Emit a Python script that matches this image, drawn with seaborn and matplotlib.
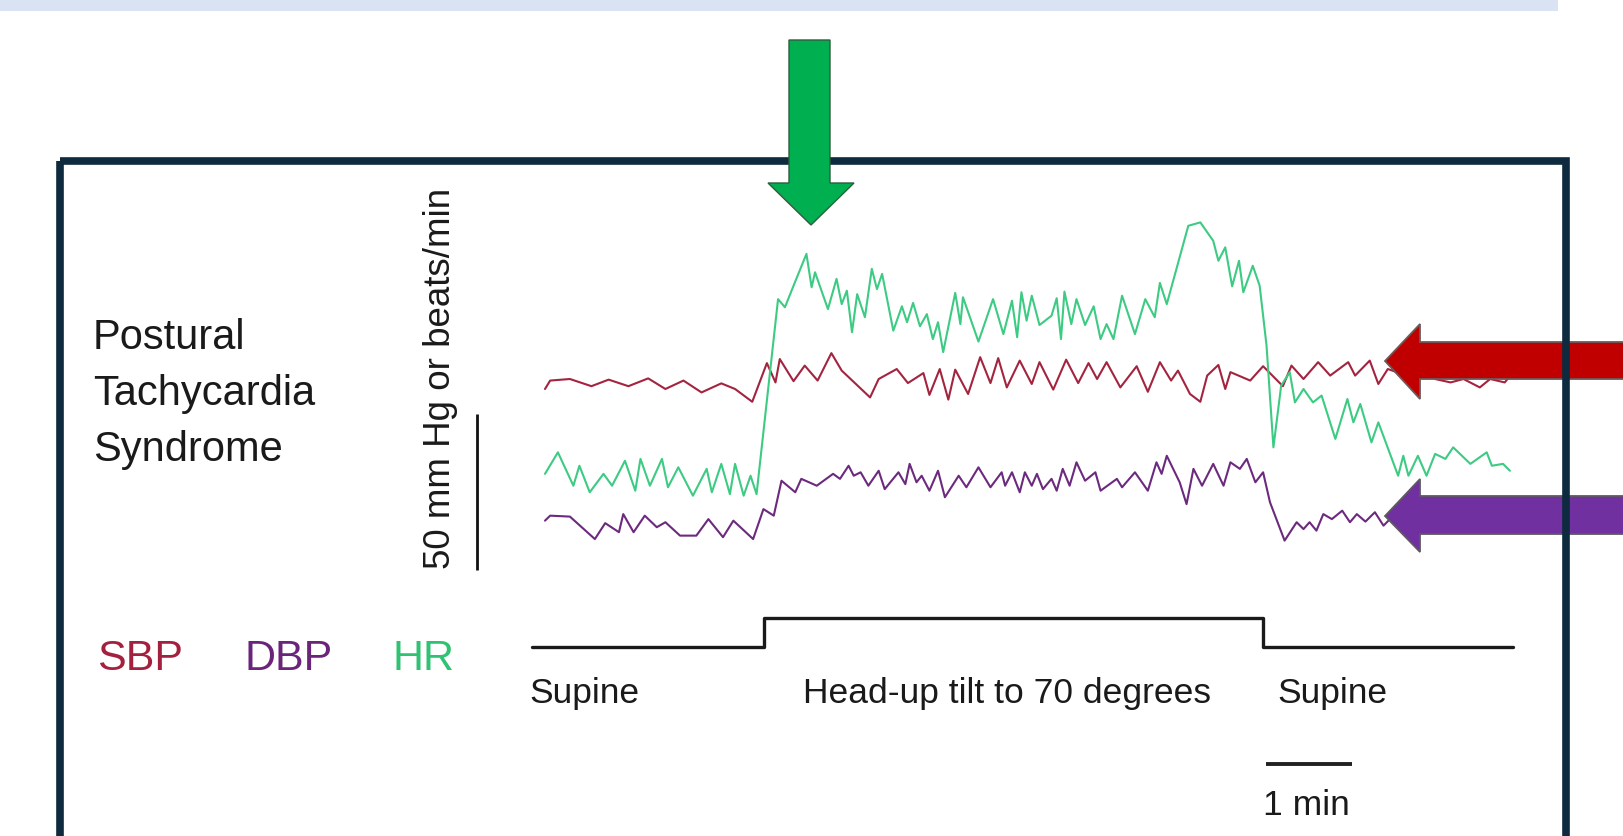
import numpy as np
import pandas as pd
import matplotlib
matplotlib.use("Agg")
import matplotlib.pyplot as plt
import seaborn as sns
from matplotlib.patches import Polygon, Rectangle

# ---------------- data (time in min, values in mmHg / beats per min) ----------------
sbp_t = [0.00, 0.06, 0.29, 0.54, 0.74, 0.97, 1.20, 1.40, 1.61, 1.82, 2.05, 2.21, 2.41, 2.58,
         2.68, 2.73, 2.89, 3.02, 3.17, 3.33, 3.45, 3.78, 3.88, 4.09, 4.22, 4.40, 4.47, 4.59,
         4.69, 4.77, 4.92, 5.06, 5.18, 5.27, 5.37, 5.52, 5.66, 5.75, 5.91, 6.06, 6.20, 6.32,
         6.42, 6.53, 6.69, 6.88, 7.01, 7.15, 7.28, 7.36, 7.50, 7.62, 7.70, 7.83, 7.91, 7.97,
         8.20, 8.35, 8.58, 8.68, 8.82, 8.99, 9.13, 9.34, 9.42, 9.59, 9.69, 9.80, 10.00, 10.17,
         10.35, 10.53, 10.68, 10.87, 10.99, 11.16, 11.22]
sbp_v = [118.4, 121.1, 121.6, 119.3, 121.4, 119.3, 121.8, 118.4, 121.1, 117.3, 120.2, 118.4,
         114.3, 126.7, 120.5, 128.0, 120.9, 125.9, 121.1, 129.9, 124.3, 115.7, 121.6, 124.8,
         120.3, 123.5, 116.5, 124.8, 115.0, 124.6, 116.8, 128.6, 120.3, 128.3, 118.9, 127.5,
         120.0, 127.0, 118.2, 127.8, 120.3, 126.7, 121.6, 127.0, 118.9, 125.7, 117.5, 127.0,
         121.1, 124.3, 116.8, 114.3, 122.7, 126.1, 118.4, 123.8, 121.1, 125.7, 119.3, 125.9,
         121.6, 127.0, 122.7, 127.0, 122.7, 127.5, 120.0, 124.8, 122.9, 125.4, 121.6, 120.5,
         121.6, 118.9, 121.6, 120.5, 122.6]

dbp_t = [0.00, 0.06, 0.29, 0.58, 0.70, 0.86, 0.91, 1.03, 1.16, 1.30, 1.40, 1.57, 1.76, 1.90,
         2.07, 2.19, 2.42, 2.54, 2.66, 2.75, 2.91, 2.98, 3.16, 3.35, 3.43, 3.53, 3.59, 3.67,
         3.76, 3.88, 3.95, 4.11, 4.19, 4.24, 4.32, 4.38, 4.47, 4.57, 4.65, 4.81, 4.90, 5.04,
         5.18, 5.31, 5.35, 5.43, 5.52, 5.58, 5.66, 5.72, 5.79, 5.89, 5.95, 6.02, 6.10, 6.18,
         6.28, 6.40, 6.46, 6.65, 6.71, 6.86, 7.01, 7.11, 7.17, 7.23, 7.38, 7.46, 7.54, 7.64,
         7.77, 7.89, 7.97, 8.08, 8.16, 8.26, 8.35, 8.43, 8.60, 8.74, 8.82, 8.89, 8.97, 9.05,
         9.15, 9.27, 9.36, 9.44, 9.54, 9.65, 9.75, 9.85]
dbp_v = [76.2, 77.8, 77.5, 70.3, 75.4, 72.5, 78.3, 72.5, 77.8, 74.1, 75.7, 71.4, 71.4, 76.7,
         70.9, 76.2, 70.3, 79.9, 77.8, 89.0, 85.3, 89.6, 87.4, 91.2, 89.6, 93.8, 90.6, 91.7,
         87.4, 92.2, 86.3, 91.7, 87.9, 94.4, 88.5, 90.6, 85.8, 92.2, 83.7, 90.6, 86.9, 93.3,
         86.9, 91.7, 87.4, 91.7, 85.3, 91.7, 87.4, 91.2, 86.3, 89.6, 85.8, 92.8, 87.4, 94.9,
         89.0, 91.7, 85.8, 89.6, 86.9, 91.7, 85.8, 94.9, 91.2, 97.0, 88.5, 81.5, 92.8, 87.4,
         94.4, 87.4, 94.9, 92.8, 96.0, 88.5, 91.7, 82.1, 69.8, 75.7, 73.5, 75.7, 73.0, 78.3,
         76.7, 79.4, 75.7, 78.3, 75.9, 78.9, 74.6, 77.4]

hr_t = [0.00, 0.15, 0.33, 0.40, 0.52, 0.68, 0.78, 0.93, 1.05, 1.11, 1.22, 1.36, 1.43, 1.55,
        1.72, 1.88, 1.94, 2.05, 2.15, 2.21, 2.31, 2.39, 2.46, 2.71, 2.79, 2.89, 3.04, 3.10,
        3.14, 3.29, 3.39, 3.45, 3.51, 3.57, 3.63, 3.72, 3.80, 3.86, 3.92, 4.05, 4.15, 4.21,
        4.28, 4.36, 4.44, 4.51, 4.57, 4.63, 4.77, 4.83, 4.86, 5.04, 5.21, 5.33, 5.43, 5.49,
        5.54, 5.60, 5.66, 5.75, 5.89, 5.95, 6.00, 6.04, 6.12, 6.18, 6.28, 6.38, 6.46, 6.53,
        6.61, 6.71, 6.86, 6.98, 7.09, 7.15, 7.23, 7.48, 7.62, 7.77, 7.83, 7.91, 7.99, 8.07,
        8.12, 8.23, 8.31, 8.39, 8.47, 8.56, 8.66, 8.72, 8.82, 8.93, 9.03, 9.19, 9.33, 9.40,
        9.48, 9.61, 9.69, 9.92, 9.98, 10.04, 10.15, 10.25, 10.35, 10.47, 10.56, 10.76, 10.95,
        11.01, 11.14, 11.22]
hr_v = [91.2, 98.1, 87.4, 93.8, 85.3, 91.2, 87.4, 95.4, 85.8, 96.0, 87.4, 96.0, 86.9, 93.3,
        84.2, 92.8, 85.3, 94.4, 84.7, 94.4, 84.2, 90.6, 84.7, 147.2, 144.6, 151.5, 161.7, 151.0,
        155.8, 144.0, 153.7, 145.6, 149.9, 136.6, 148.8, 141.4, 156.9, 150.4, 155.3, 137.1,
        144.9, 139.8, 146.0, 138.5, 142.4, 134.4, 139.8, 130.2, 149.2, 139.2, 147.8, 133.6,
        147.2, 136.0, 146.7, 135.0, 149.4, 140.3, 148.3, 138.9, 141.9, 147.5, 134.4, 149.6,
        139.2, 147.2, 138.9, 144.9, 134.4, 139.2, 134.4, 148.3, 136.0, 147.2, 141.4, 152.4,
        145.6, 170.7, 171.8, 165.9, 159.5, 163.8, 151.3, 159.5, 149.4, 157.9, 151.5, 132.3,
        99.7, 119.5, 123.8, 114.1, 118.4, 114.1, 116.3, 102.4, 115.2, 107.7, 113.6, 101.3,
        107.7, 90.6, 97.0, 90.6, 97.0, 90.6, 97.6, 96.0, 99.7, 94.4, 98.1, 93.8, 94.4, 92.2]

tilt_t = [-0.15, 2.55, 8.35, 11.26]
tilt_deg = [0, 70, 0, 0]

scale_value = 50      # mm Hg or beats/min
scale_time = 1        # min

series_names = ["SBP", "DBP", "HR"]
series_colors = {"SBP": "#a3243f", "DBP": "#6c2a7e", "HR": "#3dcb83"}
label_colors = {"SBP": "#a3213e", "DBP": "#6a2479", "HR": "#2fc273"}

# ---------------- figure ----------------
sns.set_theme(style="white")
plt.rcParams["font.family"] = ["Liberation Sans", "DejaVu Sans"]

W, H = 1623, 837
fig = plt.figure(figsize=(W / 100, H / 100), dpi=100)
fig.patch.set_facecolor("white")

# trace axes: 86 px per minute (t=0 at x=545 px), 3.12 px per unit (120 at y=385 px)
PXM, PXU = 86.0, 3.12
ax = fig.add_axes([0, 0, 1, 1])
ax.set_xlim(-545 / PXM, (W - 545) / PXM)
ax.set_ylim(120 - (H - 385) / PXU, 120 + 385 / PXU)
ax.axis("off")
ax.patch.set_alpha(0)

df = pd.concat([
    pd.DataFrame({"t": sbp_t, "v": sbp_v, "s": "SBP"}),
    pd.DataFrame({"t": dbp_t, "v": dbp_v, "s": "DBP"}),
    pd.DataFrame({"t": hr_t, "v": hr_v, "s": "HR"}),
])
for name in ["DBP", "SBP", "HR"]:
    sub = df[df.s == name]
    sns.lineplot(data=sub, x="t", y="v", ax=ax, color=series_colors[name],
                 sort=False, estimator=None, lw=1.5, legend=False)
ax.set_xlabel("")
ax.set_ylabel("")

# vertical 50 unit scale bar and 1 min bar
bar_x = -0.79
bar_y0 = 60.3
ax.plot([bar_x, bar_x], [bar_y0, bar_y0 + scale_value], color="#111111", lw=2.0,
        solid_capstyle="butt")
tb_x0, tb_y = 8.38, -1.8
ax.plot([tb_x0, tb_x0 + scale_time], [tb_y, tb_y], color="#222222", lw=2.8,
        solid_capstyle="butt")

# tilt step (0 deg at y=648 px, 70 deg at y=619 px)
ax2 = ax.twinx()
ax2.set_position([0, 0, 1, 1])
dpx = 29 / 70
ax2.set_ylim(-(H - 648) / dpx, 648 / dpx)
ax2.axis("off")
ax2.step(tilt_t, tilt_deg, where="post", color="#1a1a1a", lw=2.4)

# overlay in pixel coordinates
axp = fig.add_axes([0, 0, 1, 1], zorder=5)
axp.set_xlim(0, W)
axp.set_ylim(H, 0)
axp.axis("off")
axp.patch.set_alpha(0)

# top band
axp.add_patch(Rectangle((0, 0), 1558, 12, facecolor="#dae3f3", edgecolor="none", zorder=1))

# red and purple arrows (under box border)
red = [(1385, 362), (1420, 325), (1420, 343), (1640, 343), (1640, 380), (1420, 380), (1420, 400)]
pur = [(1385, 517), (1420, 480), (1420, 497), (1640, 497), (1640, 535), (1420, 535), (1420, 553)]
axp.add_patch(Polygon(red, closed=True, facecolor="#c00000", edgecolor="#6e5a5a", lw=1.3, zorder=2))
axp.add_patch(Polygon(pur, closed=True, facecolor="#7030a0", edgecolor="#5e5a60", lw=1.3, zorder=2))

# box border
axp.add_patch(Rectangle((60, 162), 1566 - 60, 900, facecolor="none", edgecolor="#0d2a3e",
                        lw=5.5, zorder=3))

# green arrow (over border)
grn = [(789, 41), (830, 41), (830, 184), (854, 184), (811, 226), (768, 184), (789, 184)]
axp.add_patch(Polygon(grn, closed=True, facecolor="#00b050", edgecolor="#2d5e3c", lw=1.0, zorder=4))

# texts
txt = "#1a1a1a"
for line, yb in zip(["Postural", "Tachycardia", "Syndrome"], [349, 405, 461]):
    axp.text(93, yb, line, fontsize=30, color=txt, ha="left", va="baseline")

for name, x in zip(series_names, [97, 245, 393]):
    axp.text(x, 670, name, fontsize=31, color=label_colors[name], ha="left", va="baseline")

axp.text(440, 378, "50 mm Hg or beats/min", fontsize=26.5, color=txt, rotation=90,
         ha="center", va="center")

axp.text(529, 703, "Supine", fontsize=25.5, color=txt, ha="left", va="baseline")
axp.text(803, 703, "Head-up tilt to 70 degrees", fontsize=25.5, color=txt, ha="left",
         va="baseline")
axp.text(1277, 703, "Supine", fontsize=25.5, color=txt, ha="left", va="baseline")
axp.text(1263, 815, "1 min", fontsize=25.5, color=txt, ha="left", va="baseline")

fig.savefig("out.png", dpi=100, facecolor="white")
